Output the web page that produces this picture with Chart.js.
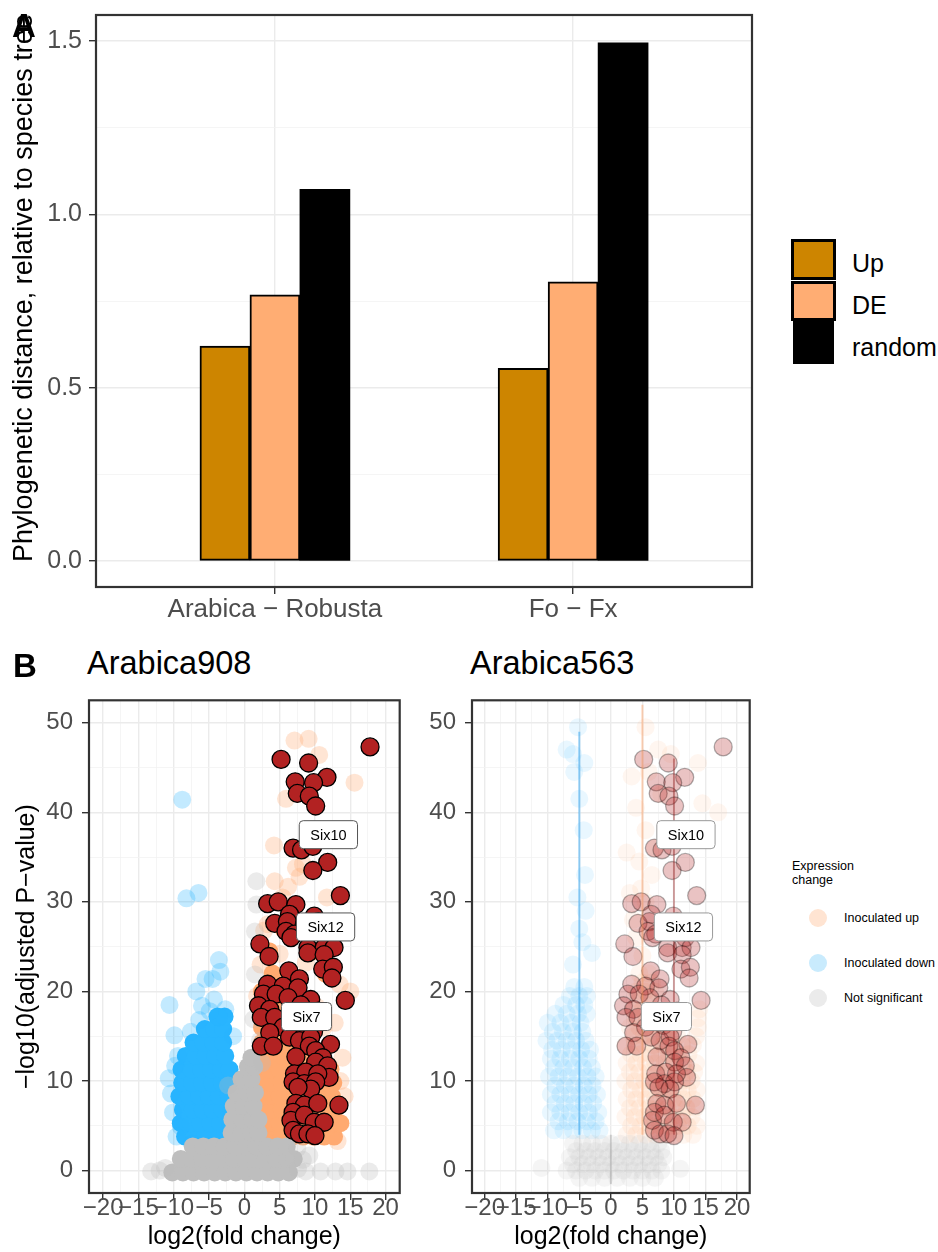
<!DOCTYPE html>
<html>
<head>
<meta charset="utf-8">
<script src="https://cdn.jsdelivr.net/npm/chart.js@4.4.1/dist/chart.umd.min.js"></script>
<style>
  body { margin: 0; background: #fff; width: 938px; height: 1252px; position: relative; overflow: hidden;
         font-family: "Liberation Sans", Arial, Helvetica, sans-serif; }
  canvas { position: absolute; }
  .t { position: absolute; white-space: nowrap; line-height: 1; color: #000; }
  .key { position: absolute; box-sizing: border-box; }
  .dot { position: absolute; width: 18px; height: 18px; border-radius: 50%; }
</style>
</head>
<body>
<canvas id="chartA" width="760" height="635" style="left:0;top:0"></canvas>
<div class="t" style="left:23px;top:288px;font-size:27px;transform:translate(-50%,-50%) rotate(-90deg)">Phylogenetic distance, relative to species tree</div>
<div class="t" style="left:12px;top:9px;font-size:33px;font-weight:bold">A</div>

<!-- legend A -->
<div class="key" style="left:791px;top:239px;width:45px;height:41px;background:#CD8500;border:3px solid #000"></div>
<div class="key" style="left:791px;top:281px;width:45px;height:40px;background:#FFAD73;border:3px solid #000"></div>
<div class="key" style="left:793px;top:321px;width:41px;height:43px;background:#000"></div>
<div class="t" style="left:852px;top:251px;font-size:25px">Up</div>
<div class="t" style="left:852px;top:293px;font-size:25px">DE</div>
<div class="t" style="left:852px;top:335px;font-size:25px">random</div>

<div class="t" style="left:13px;top:649px;font-size:33px;font-weight:bold">B</div>
<div class="t" style="left:87px;top:647px;font-size:32.5px">Arabica908</div>
<div class="t" style="left:470px;top:647px;font-size:32.5px">Arabica563</div>
<canvas id="chartB1" width="410" height="562" style="left:0;top:690px"></canvas>
<canvas id="chartB2" width="360" height="562" style="left:400px;top:690px"></canvas>

<!-- legend B -->
<div class="t" style="left:792px;top:859px;font-size:12.5px;line-height:14px">Expression<br>change</div>
<div class="dot" style="left:809px;top:909px;background:#FFE4D2"></div>
<div class="dot" style="left:809px;top:954px;background:#C9EBFD"></div>
<div class="dot" style="left:809px;top:989px;background:#EBEBEB"></div>
<div class="t" style="left:844px;top:912px;font-size:12.5px">Inoculated up</div>
<div class="t" style="left:844px;top:957px;font-size:12.5px">Inoculated down</div>
<div class="t" style="left:844px;top:992px;font-size:12.5px">Not significant</div>

<script>
// ---- Panel A data ----
const categories = ['Arabica − Robusta', 'Fo − Fx'];
const upValues = [0.62, 0.556];
const deValues = [0.768, 0.805];
const randomValues = [1.072, 1.495];
const yTicksA = [0, 0.25, 0.5, 0.75, 1.0, 1.25, 1.5];
const yLabelsA = [0, 0.5, 1.0, 1.5];

// ---- Panel B data (log2 fold change, -log10 adjusted p) ----
const xTicksB = [-20, -17.5, -15, -12.5, -10, -7.5, -5, -2.5, 0, 2.5, 5, 7.5, 10, 12.5, 15, 17.5, 20];
const yTicksB = [0, 5, 10, 15, 20, 25, 30, 35, 40, 45, 50];

const sixLabels = [
  { text: 'Six10', x: 11.9, y: 37.5 },
  { text: 'Six12', x: 11.5, y: 27.2 },
  { text: 'Six7', x: 8.8, y: 17.2 }
];

// highlighted genes (same in both panels)
const highlighted = [
  [17.8,47.3],[5.2,45.9],[9.1,45.5],[11.7,43.9],[7.2,43.4],[9.8,43.3],[7.5,42.1],[9.2,41.8],[10.1,40.7],
  [6.9,36.0],[8.1,35.8],[9.5,37.0],[9.7,36.2],[11.8,34.4],[9.7,33.5],[13.6,30.7],
  [3.3,29.8],[4.8,30.0],[7.3,29.7],[6.4,28.6],[9.9,28.4],[4.3,27.6],[6.1,27.8],[8.5,27.5],[10.5,27.8],
  [5.9,26.7],[7.1,26.4],[6.6,26.0],[11.8,26.0],[2.2,25.3],[9.0,24.9],[11.3,24.9],[12.7,24.9],[9.0,24.3],
  [11.3,24.1],[3.5,23.9],[11.1,22.5],[12.6,22.7],[6.3,22.3],[12.4,21.5],[7.8,21.4],[3.3,20.8],[5.5,20.6],
  [7.6,20.4],[2.7,19.7],[4.5,19.7],[6.2,19.3],[9.4,19.1],[14.3,19.0],[2.0,18.4],[3.6,18.0],[8.0,18.5],
  [10.5,17.8],[7.2,17.6],[2.4,17.1],[4.3,17.1],[8.3,16.2],[5.5,16.0],[9.8,15.5],[3.6,15.4],
  [2.4,13.9],[4.1,13.9],[6.4,14.9],[7.8,14.5],[9.4,14.9],[9.2,13.9],[12.2,14.1],[7.3,12.7],[10.1,13.4],
  [11.1,12.6],[10.1,12.1],[11.8,11.7],[12.0,10.4],[7.1,10.8],[8.7,11.0],[10.4,10.8],[6.9,9.9],[8.5,9.7],
  [10.1,9.9],[9.4,9.1],[7.6,9.3],[13.4,7.3],[7.3,7.5],[8.5,7.3],[10.4,7.5],[6.9,6.5],[6.6,5.6],[8.5,6.2],
  [9.9,5.4],[11.3,5.4],[6.9,4.5],[7.8,4.1],[9.0,4.1],[10.0,3.9]
];

// Arabica908
const up908Dense = [
  [2.3,3.8],[3.8,3.8],[5.3,3.8],[6.8,3.8],[8.3,3.8],[9.8,3.8],[11.3,3.8],[12.7,3.8],
  [2,5.3],[3.5,5.3],[5,5.3],[6.5,5.3],[8,5.3],[9.5,5.3],[11,5.3],[12.5,5.3],[13.6,5.3],
  [2.3,6.8],[3.8,6.8],[5.3,6.8],[6.8,6.8],[8.3,6.8],[9.8,6.8],[11.3,6.8],[12.8,6.8],
  [2,8.3],[3.5,8.3],[5,8.3],[6.5,8.3],[8,8.3],[9.5,8.3],[11,8.3],[12.4,8.3],
  [2.3,9.8],[3.8,9.8],[5.3,9.8],[6.8,9.8],[8.3,9.8],[9.8,9.8],[11.3,9.8],[12.6,9.8],
  [2,11.3],[3.5,11.3],[5,11.3],[6.5,11.3],[8,11.3],[9.5,11.3],[11,11.3],[12.2,11.3],
  [2.3,12.8],[3.8,12.8],[5.3,12.8],[6.8,12.8],[8.5,12.8],[10.5,12.8],
  [2.5,14.3],[4,14.3],[5.5,14.3],[7.5,14.3],[2.5,16],[5,16],[3,18],[5,18],[7,18],
  [2.5,20],[4.5,20],[6.8,20],[4,22],[6.5,22],[11.5,22],[3.5,24.5],[10,24.5],[5.5,27],[8,27]
];
const up908 = [
  [7.1,48],[9.1,48.2],[10.6,46.4],[15.6,43.3],[5.9,41.5],[4.2,36.3],[7.3,33.8],[7.8,32.8],[8.3,34.2],
  [4.3,32.3],[6.2,31.7],[5.4,30.5],[11.7,30.5],[15,20],[13.9,12.6],[13.6,10],[12.2,5.2],[14.2,8.3],
  [13.2,3.3],[3.3,27.5],[2.3,23],[1.8,19.5],[10.2,18.3],[12.8,16.5],[11.2,16],[13.5,20.8],[8.7,23.2],
  [5,24.2],[2.8,26.8]
];
const down908Dense = [
  [-8.4,3.8],[-7,3.8],[-5.6,3.8],[-4.2,3.8],[-2.8,3.8],[-1.8,3.8],
  [-9,5.3],[-7.6,5.3],[-6.2,5.3],[-4.8,5.3],[-3.4,5.3],[-2,5.3],
  [-8.7,6.8],[-7.3,6.8],[-5.9,6.8],[-4.5,6.8],[-3.1,6.8],[-1.8,6.8],
  [-9.2,8.3],[-7.8,8.3],[-6.4,8.3],[-5,8.3],[-3.6,8.3],[-2.2,8.3],
  [-8.8,9.8],[-7.4,9.8],[-6,9.8],[-4.6,9.8],[-3.2,9.8],[-2,9.8],
  [-8.9,11.3],[-7.5,11.3],[-6.1,11.3],[-4.7,11.3],[-3.3,11.3],[-2.1,11.3],
  [-8.3,12.8],[-6.9,12.8],[-5.5,12.8],[-4.1,12.8],[-2.7,12.8],
  [-7.2,14.3],[-5.8,14.3],[-4.4,14.3],[-3,14.3],[-5.6,15.8],[-4.3,15.8],[-3,15.8],[-3.8,17.2],[-2.8,17.2]
];
const down908 = [
  [-8.8,41.4],[-8.2,30.4],[-6.5,31],[-3.6,23.5],[-3.4,22.2],[-5.5,21.4],[-4.5,21.4],[-10.6,18.5],
  [-4.3,19.1],[-6,18.4],[-2.7,18],[-9.9,15.1],[-3.6,17.1],[-10.4,8.6],[-9,4.9],[-7.4,3],[-9.8,11.7],
  [-10.1,6.5],[-9.4,12.8],[-7.6,15.5],[-6.4,16.8],[-6.8,20],[-1.6,15],[-10.7,10.3],[-9.6,3.8],[-4.9,17.8]
];
const ns908Dense = [
  [-10.2,-0.2],[-8.7,-0.2],[-7.2,-0.2],[-5.7,-0.2],[-4.2,-0.2],[-2.7,-0.2],[-1.2,-0.2],[0.3,-0.2],
  [1.8,-0.2],[3.3,-0.2],[4.8,-0.2],[6.3,-0.2],
  [-9,1.3],[-7.5,1.3],[-6,1.3],[-4.5,1.3],[-3,1.3],[-1.5,1.3],[0,1.3],[1.5,1.3],[3,1.3],[4.5,1.3],[6,1.3],[7,1.3],
  [-7.3,2.7],[-5.8,2.7],[-4.3,2.7],[-2.8,2.7],[-1.3,2.7],[0.2,2.7],[1.7,2.7],[3.2,2.7],[4.7,2.7],[6,2.7],
  [-1.8,4.2],[-0.4,4.2],[1,4.2],[2,4.2],[-1.7,5.7],[-0.3,5.7],[1.1,5.7],[2,5.7],
  [-1.5,7.2],[-0.1,7.2],[1.3,7.2],[-1.1,8.7],[0.3,8.7],[1.5,8.7],[-0.4,10.2],[1,10.2],[0.5,11.6],[1.4,11.6],[1,12.6]
];
const ns908 = [
  [-13.2,-0.1],[-12,0],[-11.2,0.3],[7.6,0.2],[8.7,-0.1],[9.2,1.7],[10.8,-0.1],[12.9,-0.1],[14.6,-0.1],
  [17.7,-0.1],[7.5,2.5],[8.3,1.2],[1.7,32.3],[1.7,29.7],[1.5,26.7],[1.5,21.9],[1.3,16.9],[2.2,14.5],
  [-2.3,9.5],[2.5,12]
];

// Arabica563
const up563 = [
  [2.5,4],[4,4],[5.5,4],[7,4],[8.5,4],[10,4],[11.5,4],[13,4],
  [3.2,5],[4.7,5],[6.2,5],[7.7,5],[9.2,5],[10.7,5],[12.2,5],[13.6,5],
  [2.3,6],[3.8,6],[5.3,6],[6.8,6],[8.3,6],[9.8,6],[11.3,6],[12.8,6],
  [3,7],[4.5,7],[6,7],[7.5,7],[9,7],[10.5,7],[12,7],[13.4,7],
  [2.5,8],[4,8],[5.5,8],[7,8],[8.5,8],[10,8],[11.5,8],[13,8],
  [3.2,9],[4.7,9],[6.2,9],[7.7,9],[9.2,9],[10.7,9],[12.2,9],[13.6,9],
  [2.3,10],[3.8,10],[5.3,10],[6.8,10],[8.3,10],[9.8,10],[11.3,10],[12.8,10],
  [3,11],[4.5,11],[6,11],[7.5,11],[9,11],[10.5,11],[12,11],[13.2,11],
  [2.5,12],[4,12],[5.5,12],[7,12],[8.5,12],[10,12],[11.5,12],[13.5,12],
  [3.2,13],[4.7,13],[6.2,13],[7.7,13],[9.2,13],[10.7,13],[12.3,13],
  [2.3,14],[3.8,14],[5.3,14],[6.8,14],[8.3,14],[9.8,14],[11.3,14],[13,14],
  [3.6,15],[5.2,15],[6.8,15],[8.5,15],[10.5,15],[13.5,15],
  [3,16],[4.5,16],[6,16],[7.5,16],[9.5,16],[13.8,16],[4,17],[5.7,17],[7.3,17],[13.8,17],
  [3.5,18],[5,18],[6.5,18],[14,18],[4.5,19],[6.2,19],[4,20],[5.5,20],[7,20],[5,21],[6.5,21],[4.5,22],[6,22],
  [5,24],[4,26],[3.5,28],[5.5,30],[3,31],[6.5,33],[4.5,34.5],[7,36],[5.5,38],[4,40.5],[8,42],
  [3.3,44],[6,44.5],[7.5,47],[5.5,49.5],[9.5,46.5],[14.5,41],[17,40],[13.8,45.5],[11.8,37],
  [2.5,35.5],[4.8,31.5],[6.3,27]
];
const down563 = [
  [-9,4.5],[-7.5,4.5],[-6,4.5],[-4.5,4.5],[-3,4.5],[-1.8,4.5],
  [-8.3,5.5],[-6.8,5.5],[-5.3,5.5],[-3.8,5.5],[-2.4,5.5],
  [-9.5,6.5],[-8,6.5],[-6.5,6.5],[-5,6.5],[-3.5,6.5],[-2,6.5],
  [-8.8,7.5],[-7.3,7.5],[-5.8,7.5],[-4.3,7.5],[-2.8,7.5],
  [-9.5,8.5],[-8,8.5],[-6.5,8.5],[-5,8.5],[-3.5,8.5],[-2.2,8.5],
  [-8.8,9.5],[-7.3,9.5],[-5.8,9.5],[-4.3,9.5],[-2.9,9.5],
  [-9.8,10.5],[-8.3,10.5],[-6.8,10.5],[-5.2,10.5],[-3.7,10.5],[-2.4,10.5],
  [-9,11.5],[-7.5,11.5],[-6,11.5],[-4.4,11.5],[-3,11.5],
  [-9.5,12.5],[-8,12.5],[-6.5,12.5],[-5,12.5],[-3.5,12.5],
  [-9.3,13.5],[-7.8,13.5],[-6.2,13.5],[-4.7,13.5],[-3.3,13.5],
  [-10.2,14.5],[-8.5,14.5],[-7,14.5],[-5.5,14.5],[-4,14.5],
  [-9.2,15.5],[-7.6,15.5],[-6,15.5],[-4.5,15.5],
  [-10,16.5],[-8,16.5],[-6.3,16.5],[-4.8,16.5],[-8.8,17.5],[-7,17.5],[-5.2,17.5],[-3.8,17.5],
  [-7.5,18.5],[-5.5,18.5],[-4.2,18.5],[-6.5,19.5],[-5,19.5],[-3.8,19.5],[-5.8,20.5],[-4.2,20.5],
  [-7,47],[-5.2,49.5],[-4.2,45.5],[-5.8,44.5],[-5,41.5],[-4.3,38],[-4.1,33],[-5.3,30.5],[-4,29],
  [-5,27],[-4.5,25.5],[-6,23],[-3,24.3],[-6,46.5]
];
const ns563 = [
  [-5,-0.8],[-3,-0.8],[-1,-0.8],[1,-0.8],[3,-0.8],[5,-0.8],[7,-0.8],
  [-7,0],[-5.5,0],[-4,0],[-2.5,0],[-1,0],[0.5,0],[2,0],[3.5,0],[5,0],[6.5,0],[8,0],
  [-6,0.7],[-4.5,0.7],[-3,0.7],[-1.5,0.7],[0,0.7],[1.5,0.7],[3,0.7],[4.5,0.7],[6,0.7],[7.5,0.7],
  [-6.5,1.5],[-5,1.5],[-3.5,1.5],[-2,1.5],[-0.5,1.5],[1,1.5],[2.5,1.5],[4,1.5],[5.5,1.5],[7,1.5],[8.3,1.5],
  [-5.5,2.2],[-4,2.2],[-2.5,2.2],[-1,2.2],[0.5,2.2],[2,2.2],[3.5,2.2],[5,2.2],[6.5,2.2],[8,2.2],
  [-6,3],[-4.5,3],[-3,3],[-1.5,3],[0,3],[1.5,3],[3,3],[4.5,3],[6,3],[7.5,3],
  [-11,0.3],[11,0.2]
];
// streaks of stacked points at fixed fold changes in Arabica563
const streak563Down = [[-5,4],[-5,49]];
const streak563Up = [[5,4],[5,52]];
const streak563High = [[10,4],[10,46]];
const streak563Ns = [[0,-1.5],[0,4]];

// ---- helpers ----
const family = '"Liberation Sans", Arial, Helvetica, sans-serif';
Chart.defaults.font.family = family;
const pts = list => list.map(p => ({ x: p[0], y: p[1] }));
const minus = v => (v < 0 ? '\u2212' + Math.abs(v) : String(v));
const noPadY = s => { s.paddingTop = 0; s.paddingBottom = 0; };
const noPadX = s => { s.paddingLeft = 0; s.paddingRight = 0; };

const frame = {
  id: 'frame',
  afterDatasetsDraw(chart) {
    const { ctx, chartArea: a } = chart;
    ctx.save();
    ctx.strokeStyle = '#333333';
    ctx.lineWidth = 2.2;
    ctx.strokeRect(a.left, a.top, a.right - a.left, a.bottom - a.top);
    ctx.restore();
  }
};

const labelBoxes = {
  id: 'labelBoxes',
  afterDatasetsDraw(chart, args, opts) {
    if (!opts.items) return;
    const { ctx, scales } = chart;
    ctx.save();
    ctx.font = '14.5px ' + family;
    ctx.textAlign = 'center';
    ctx.textBaseline = 'middle';
    opts.items.forEach(it => {
      const px = scales.x.getPixelForValue(it.x);
      const py = scales.y.getPixelForValue(it.y);
      const w = ctx.measureText(it.text).width + 22;
      const h = 28;
      ctx.beginPath();
      ctx.roundRect(px - w / 2, py - h / 2, w, h, 4);
      ctx.fillStyle = '#fff';
      ctx.fill();
      ctx.lineWidth = 1;
      ctx.strokeStyle = opts.border;
      ctx.stroke();
      ctx.fillStyle = '#000';
      ctx.fillText(it.text, px, py + 1);
    });
    ctx.restore();
  }
};

// ---- Panel A ----
new Chart(document.getElementById('chartA'), {
  type: 'bar',
  data: {
    datasets: [
      { label: 'Up', data: categories.map((c, i) => ({ x: i + 1, y: upValues[i] })),
        backgroundColor: '#CD8500', borderColor: '#000', borderWidth: 2, borderSkipped: false, barThickness: 50 },
      { label: 'DE', data: categories.map((c, i) => ({ x: i + 1, y: deValues[i] })),
        backgroundColor: '#FFAD73', borderColor: '#000', borderWidth: 2, borderSkipped: false, barThickness: 50 },
      { label: 'random', data: categories.map((c, i) => ({ x: i + 1, y: randomValues[i] })),
        backgroundColor: '#000', borderWidth: 0, barThickness: 50 }
    ]
  },
  options: {
    responsive: false, animation: false, events: [],
    layout: { padding: { top: 15, right: 8, left: 0, bottom: 0 } },
    plugins: { legend: { display: false }, tooltip: { enabled: false } },
    scales: {
      x: {
        type: 'linear', min: 0.4, max: 2.6, offset: false,
        afterBuildTicks: s => { s.ticks = categories.map((c, i) => ({ value: i + 1 })); },
        afterFit: s => { s.height = 48; noPadX(s); },
        ticks: { autoSkip: false, maxRotation: 0, color: '#4D4D4D', font: { size: 26 }, padding: 0,
                 callback: v => categories[v - 1] },
        grid: { offset: false, color: '#EBEBEB', lineWidth: 1.4, tickColor: '#333', tickLength: 7 },
        border: { display: false }
      },
      y: {
        min: -0.075, max: 1.575,
        afterBuildTicks: s => { s.ticks = yTicksA.map(v => ({ value: v })); },
        afterFit: s => { s.width = 96; noPadY(s); },
        ticks: { color: '#4D4D4D', font: { size: 25 }, padding: 7,
                 callback: v => (yLabelsA.includes(v) ? v.toFixed(1) : '') },
        grid: {
          color: c => (yLabelsA.includes(c.tick.value) ? '#EBEBEB' : '#F2F2F2'),
          lineWidth: c => (yLabelsA.includes(c.tick.value) ? 1.4 : 0.8),
          tickColor: c => (yLabelsA.includes(c.tick.value) ? '#333' : 'rgba(0,0,0,0)'),
          tickLength: 7
        },
        border: { display: false }
      }
    }
  },
  plugins: [frame]
});

// ---- Panel B ----
function volcano(id, datasets, yTitle, yWidth, labelBorder) {
  return new Chart(document.getElementById(id), {
    type: 'scatter',
    data: { datasets },
    options: {
      responsive: false, animation: false, events: [],
      layout: { padding: { top: 8, right: 7, left: 0, bottom: 0 } },
      plugins: { legend: { display: false }, tooltip: { enabled: false },
                 labelBoxes: { items: sixLabels, border: labelBorder } },
      scales: {
        x: {
          type: 'linear', min: -22, max: 22,
          afterBuildTicks: s => { s.ticks = xTicksB.map(v => ({ value: v })); },
          afterFit: s => { s.height = 59; noPadX(s); },
          ticks: { autoSkip: false, maxRotation: 0, color: '#4D4D4D', font: { size: 24 }, padding: -6,
                   callback: v => (v % 5 === 0 ? minus(v) : '') },
          grid: {
            color: c => (c.tick.value % 5 === 0 ? '#EBEBEB' : '#F3F3F3'),
            lineWidth: c => (c.tick.value % 5 === 0 ? 1.4 : 0.8),
            tickColor: c => (c.tick.value % 5 === 0 ? '#333' : 'rgba(0,0,0,0)'),
            tickLength: 7
          },
          border: { display: false },
          title: { display: true, text: 'log2(fold change)', color: '#000', font: { size: 25 },
                   padding: { top: 0, bottom: 0 } }
        },
        y: {
          min: -2.5, max: 52.5,
          afterBuildTicks: s => { s.ticks = yTicksB.map(v => ({ value: v })); },
          afterFit: s => { s.width = yWidth; noPadY(s); },
          ticks: { color: '#4D4D4D', font: { size: 24 }, padding: 9,
                   callback: v => (v % 10 === 0 ? String(v) : '') },
          grid: {
            color: c => (c.tick.value % 10 === 0 ? '#EBEBEB' : '#F3F3F3'),
            lineWidth: c => (c.tick.value % 10 === 0 ? 1.4 : 0.8),
            tickColor: c => (c.tick.value % 10 === 0 ? '#333' : 'rgba(0,0,0,0)'),
            tickLength: 7
          },
          border: { display: false },
          title: { display: !!yTitle, text: yTitle, color: '#000', font: { size: 25 },
                   padding: { top: 12, bottom: 0 } }
        }
      }
    },
    plugins: [frame, labelBoxes]
  });
}

const dot = (data, color, extra) => Object.assign({ data: pts(data), backgroundColor: color, borderWidth: 0,
                                                   pointRadius: 9, pointHoverRadius: 9 }, extra || {});
const streak = (data, color) => ({ type: 'line', data: pts(data), borderColor: color, borderWidth: 2,
                                   pointRadius: 0, showLine: true });

volcano('chartB1', [
  dot(highlighted, '#B22222', { borderColor: '#000', borderWidth: 1.3 }),
  dot(ns908, 'rgba(190,190,190,0.3)'),
  dot(ns908Dense, '#BEBEBE'),
  dot(up908, 'rgba(255,170,112,0.3)'),
  dot(up908Dense, '#FFAA70'),
  dot(down908, 'rgba(41,181,255,0.28)'),
  dot(down908Dense, '#29B5FF')
], '\u2212log10(adjusted P\u2212value)', 89, '#555');

volcano('chartB2', [
  streak(streak563High, 'rgba(150,30,30,0.4)'),
  streak(streak563Up, 'rgba(255,160,100,0.45)'),
  streak(streak563Down, 'rgba(60,170,240,0.55)'),
  streak(streak563Ns, 'rgba(150,150,150,0.35)'),
  dot(highlighted, 'rgba(178,34,34,0.27)', { borderColor: 'rgba(0,0,0,0.3)', borderWidth: 1.3 }),
  dot(ns563, 'rgba(200,200,200,0.18)'),
  dot(up563, 'rgba(255,165,105,0.1)'),
  dot(down563, 'rgba(41,181,255,0.1)')
], '', 72, '#999');
</script>
</body>
</html>
